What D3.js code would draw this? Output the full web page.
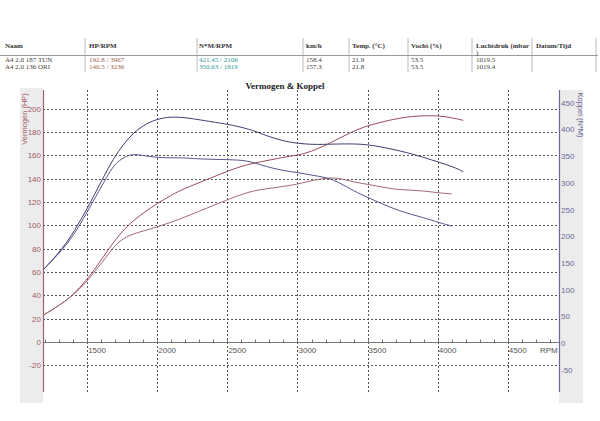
<!DOCTYPE html>
<html><head><meta charset="utf-8">
<script src="https://cdn.jsdelivr.net/npm/d3@7"></script>
<style>body{margin:0;background:#fff}svg{display:block}</style>
</head><body>
<svg id="c" width="600" height="421"></svg>
<script>
// ---------- data ----------
const headerCols = ["Naam","HP/RPM","N*M/RPM","km/h","Temp. (°C)","Vocht (%)","Luchtdruk (mbar","Datum/Tijd"];
const runNames = ["A4 2.0 187 TUN","A4 2.0 136 ORI"];
const hpPeak = ["192.8 / 3967","140.5 / 3236"];
const nmPeak = ["421.45 / 2106","350.63 / 1819"];
const speed = ["158.4","157.3"];
const temp = ["21.9","21.8"];
const humidity = ["53.5","53.5"];
const pressure = ["1019.5","1019.4"];

const rpmTicks = [1500,2000,2500,3000,3500,4000,4500];
const hpTicks = [-20,0,20,40,60,80,100,120,140,160,180,200];
const nmTicks = [-50,0,50,100,150,200,250,300,350,400,450];

const tunHpRpm = [1190,1306,1401,1496,1568,1663,1758,1830,1900,1996,2091,2139,2257,2376,2495,2590,2685,2804,2923,3006,3066,3184,3303,3422,3517,3660,3779,3897,4004,4088,4183];
const tunHp    = [23.1,31.6,40.2,53.1,64.5,81.6,96.0,104,110.5,118.5,125,128.5,134.6,140.3,146,150.3,153.2,156,158.8,160.3,162,167.5,175,182,186,190.3,193,194,194,192.5,190];

const oriHpRpm = [1190,1306,1401,1496,1544,1639,1711,1805,1900,1996,2114,2233,2352,2495,2590,2685,2804,2923,3006,3066,3161,3232,3303,3398,3494,3612,3707,3802,3897,3993,4100];
const oriHp    = [23.1,31.6,40.0,51.5,58.8,73.1,85.0,92.0,95.0,98.5,103.1,108.8,114.6,121.7,126,129.7,131.7,133.7,135.4,137.4,139.7,140.8,140.3,137.2,135.2,132.6,130.6,130.2,129.5,128,126.8];

const tunNmRpm = [1190,1330,1413,1497,1556,1615,1686,1758,1829,1925,2019,2114,2210,2305,2424,2495,2590,2685,2733,2827,2923,3006,3089,3184,3303,3446,3541,3660,3779,3897,4016,4111,4183];
const tunNm    = [138,178,212,250,280,310,345,372,394,412,421,424,422,418,413,410,405,398,393,384,377,374,372,372,373,373,370,364,357,348,338,330,321];

const oriNmRpm = [1190,1330,1413,1472,1544,1615,1663,1711,1782,1841,1925,2019,2114,2186,2281,2400,2590,2661,2733,2828,2923,3006,3089,3184,3255,3327,3422,3541,3660,3779,3897,4016,4100];
const oriNm    = [138,176,206,232,266,299,322,339,351,354,350,347,347,347,345,344,343,340,334,327,322,319,315,311,306,296,282,268,254,243,235,225,219];

// ---------- chart ----------
const svg = d3.select("#c");
const sans = "Liberation Sans, Arial, sans-serif";
const serif = "Liberation Serif, Times New Roman, serif";

const x = d3.scaleLinear().domain([1185,4865]).range([43,559]);
const yHp = d3.scaleLinear().domain([-43,216]).range([392,90]);
const yNm = d3.scaleLinear().domain([-92,474]).range([392,90]);

// header table
const colX = [5,89,199,306,352,411,476,536];
const sepX = [85,197,303,349,408,472,532,596];
sepX.forEach(s=>svg.append("line").attr("x1",s).attr("x2",s).attr("y1",38).attr("y2",72).attr("stroke","#bbb").attr("stroke-width",1));
svg.append("line").attr("x1",0).attr("x2",598).attr("y1",55.5).attr("y2",55.5).attr("stroke","#999");
headerCols.forEach((h,i)=>svg.append("text").attr("x",colX[i]).attr("y",48).text(h)
  .attr("font-family",serif).attr("font-size",7).attr("font-weight","bold").attr("fill","#333"));
svg.append("text").attr("x",colX[6]).attr("y",55).text(")").attr("font-family",serif).attr("font-size",7).attr("fill","#333");
const rowsY=[62,69];
[0,1].forEach(r=>{
  const vals=[runNames[r],hpPeak[r],nmPeak[r],speed[r],temp[r],humidity[r],pressure[r]];
  const cols=["#444","#a0604a","#2a9a9a","#444","#444","#444","#444"];
  vals.forEach((v,i)=>svg.append("text").attr("x",colX[i]).attr("y",rowsY[r]).text(v)
    .attr("font-family",serif).attr("font-size",7).attr("fill",cols[i]));
});

// grey side bands
svg.append("rect").attr("x",20).attr("y",88).attr("width",23).attr("height",315).attr("fill","#ececec");
svg.append("rect").attr("x",559).attr("y",90).attr("width",24).attr("height",313).attr("fill","#ececec");

// title
svg.append("text").attr("x",285).attr("y",89).attr("text-anchor","middle").text("Vermogen & Koppel")
  .attr("font-family",serif).attr("font-size",9).attr("font-weight","bold").attr("fill","#222");

// grid
const g = svg.append("g");
hpTicks.filter(t=>t!==0).forEach(t=>g.append("line").attr("x1",43).attr("x2",559)
  .attr("y1",Math.round(yHp(t))+0.5).attr("y2",Math.round(yHp(t))+0.5)
  .attr("stroke","#555").attr("stroke-dasharray","2,2").attr("stroke-width",1));
rpmTicks.forEach(t=>g.append("line").attr("y1",90).attr("y2",392)
  .attr("x1",Math.round(x(t))+0.5).attr("x2",Math.round(x(t))+0.5)
  .attr("stroke","#555").attr("stroke-dasharray","2,2").attr("stroke-width",1));

// x axis (at 0)
const y0 = Math.round(yHp(0))+0.5;
svg.append("line").attr("x1",43).attr("x2",559).attr("y1",y0).attr("y2",y0).attr("stroke","#777");
d3.range(1200,4900,100).forEach(t=>svg.append("line").attr("x1",Math.round(x(t))+0.5).attr("x2",Math.round(x(t))+0.5)
  .attr("y1",y0).attr("y2",y0-3).attr("stroke","#777"));
rpmTicks.forEach(t=>svg.append("text").attr("x",x(t)+1).attr("y",y0+10).text(t)
  .attr("font-family",sans).attr("font-size",8).attr("fill","#555"));
svg.append("text").attr("x",540).attr("y",y0+10).text("RPM").attr("font-family",sans).attr("font-size",8).attr("fill","#555");

// left axis
svg.append("line").attr("x1",43.5).attr("x2",43.5).attr("y1",90).attr("y2",392).attr("stroke","#a06070").attr("stroke-width",1.2);
hpTicks.forEach(t=>{
  svg.append("text").attr("x",41).attr("y",yHp(t)+3).attr("text-anchor","end").text(t)
    .attr("font-family",sans).attr("font-size",8).attr("fill","#a05a6a");
});
svg.append("text").attr("transform","translate(27,119) rotate(-90)").attr("text-anchor","middle")
  .text("Vermogen (HP)").attr("font-family",sans).attr("font-size",7.5).attr("fill","#a05a6a");

// right axis
svg.append("line").attr("x1",559.5).attr("x2",559.5).attr("y1",90).attr("y2",392).attr("stroke","#6a6a9a").attr("stroke-width",1.2);
nmTicks.forEach(t=>{
  svg.append("text").attr("x",561).attr("y",yNm(t)+3).text(t)
    .attr("font-family",sans).attr("font-size",8).attr("fill","#6a6a9a");
});
svg.append("text").attr("transform","translate(578,115) rotate(90)").attr("text-anchor","middle")
  .text("Koppel (N*M)").attr("font-family",sans).attr("font-size",7.5).attr("fill","#6a6a9a");

// curves
function drawLine(rpm, vals, ys, color){
  const pts = rpm.map((r,i)=>[r,vals[i]]);
  const line = d3.line().x(d=>x(d[0])).y(d=>ys(d[1])).curve(d3.curveBasis);
  svg.append("path").datum(pts).attr("d",line).attr("fill","none").attr("stroke",color).attr("stroke-width",1);
}
drawLine(tunHpRpm,tunHp,yHp,"#9a4a5e");
drawLine(oriHpRpm,oriHp,yHp,"#a06a74");
drawLine(tunNmRpm,tunNm,yNm,"#3e3e6e");
drawLine(oriNmRpm,oriNm,yNm,"#55558a");
</script>
</body></html>
